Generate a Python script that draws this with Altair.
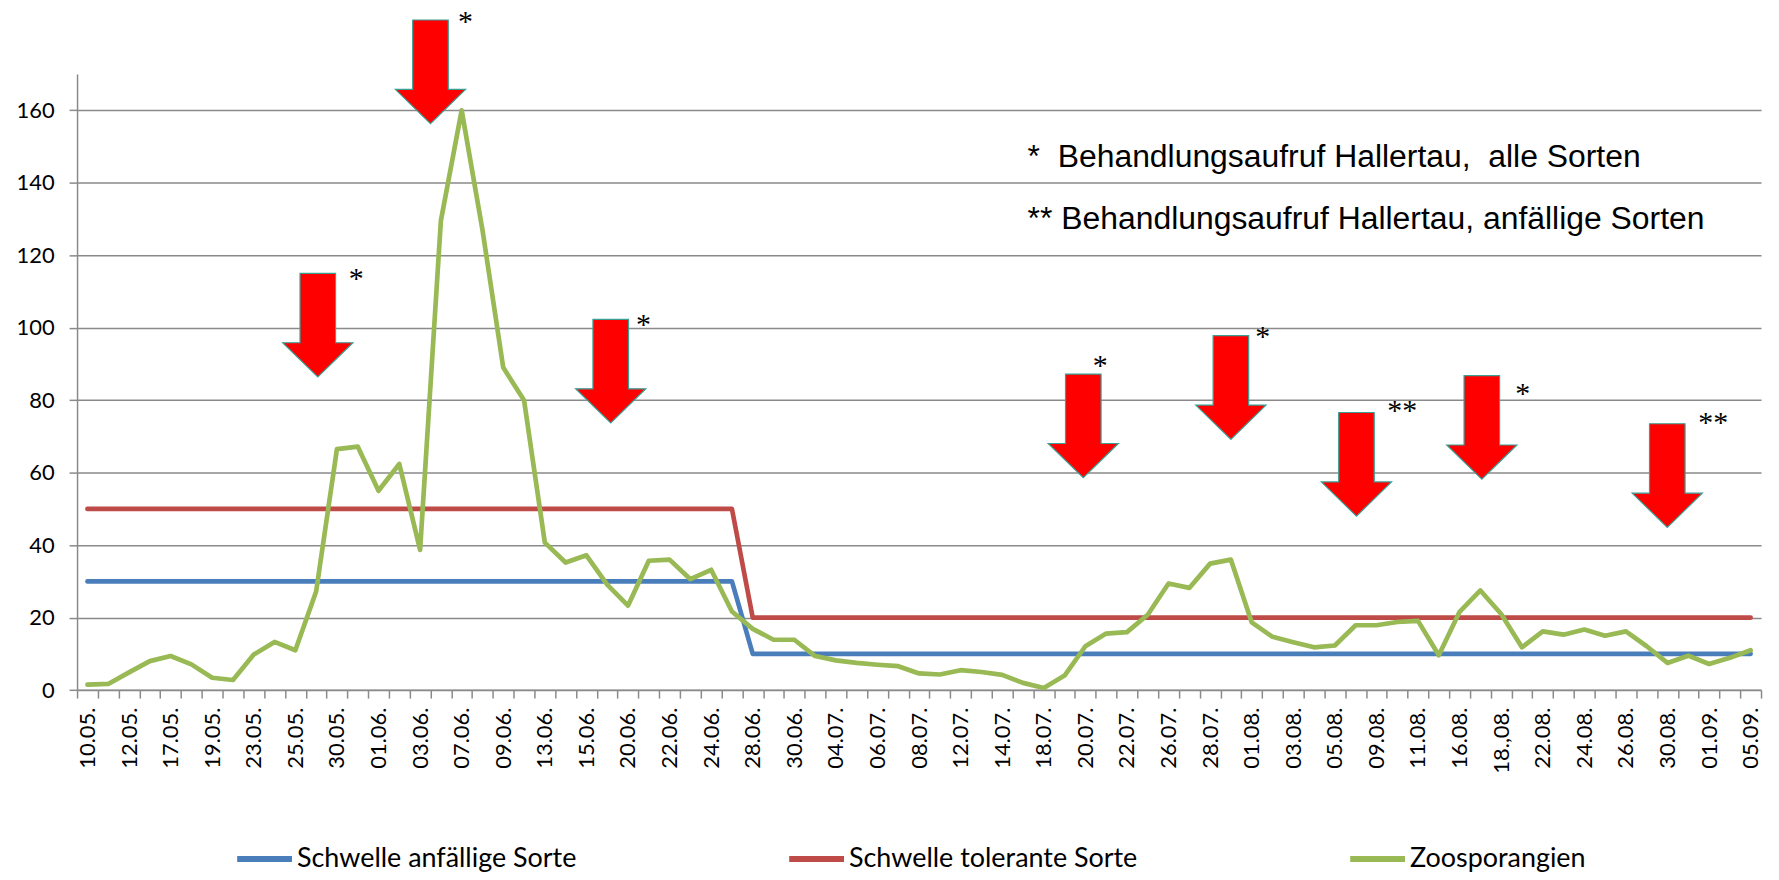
import json
import altair as alt
import pandas as pd

# ---- data ----
tick_labels = ["10.05.", "12.05.", "17.05.", "19.05.", "23.05.", "25.05.", "30.05.", "01.06.",
               "03.06.", "07.06.", "09.06.", "13.06.", "15.06.", "20.06.", "22.06.", "24.06.",
               "28.06.", "30.06.", "04.07.", "06.07.", "08.07.", "12.07.", "14.07.", "18.07.",
               "20.07.", "22.07.", "26.07.", "28.07.", "01.08.", "03.08.", "05.08.", "09.08.",
               "11.08.", "16.08.", "18.,08.", "22.08.", "24.08.", "26.08.", "30.08.", "01.09.",
               "05.09."]

zoosporangien = [1.5, 1.7, 4.9, 8.0, 9.4, 7.1, 3.4, 2.8, 9.8, 13.3,
                 11.0, 27.2, 66.5, 67.2, 55.0, 62.4, 38.7, 129.5, 160.0, 127.0,
                 89.0, 80.0, 40.7, 35.2, 37.2, 29.1, 23.3, 35.7, 36.0, 30.6,
                 33.2, 21.7, 16.9, 13.9, 13.9, 9.4, 8.2, 7.5, 7.0, 6.6,
                 4.6, 4.3, 5.5, 5.0, 4.2, 2.0, 0.6, 4.0, 12.1, 15.6,
                 16.0, 20.8, 29.4, 28.2, 34.9, 36.0, 18.7, 14.7, 13.2, 11.8,
                 12.3, 17.9, 17.9, 18.8, 19.1, 9.6, 21.6, 27.5, 21.0, 11.8,
                 16.2, 15.3, 16.7, 15.0, 16.2, 12.1, 7.5, 9.5, 7.2, 8.9,
                 11.0]

schwelle_anfaellig = [30, 30, 30, 30, 30, 30, 30, 30, 30, 30,
                      30, 30, 30, 30, 30, 30, 30, 30, 30, 30,
                      30, 30, 30, 30, 30, 30, 30, 30, 30, 30,
                      30, 30, 10, 10, 10, 10, 10, 10, 10, 10,
                      10, 10, 10, 10, 10, 10, 10, 10, 10, 10,
                      10, 10, 10, 10, 10, 10, 10, 10, 10, 10,
                      10, 10, 10, 10, 10, 10, 10, 10, 10, 10,
                      10, 10, 10, 10, 10, 10, 10, 10, 10, 10,
                      10]

schwelle_tolerant = [50, 50, 50, 50, 50, 50, 50, 50, 50, 50,
                     50, 50, 50, 50, 50, 50, 50, 50, 50, 50,
                     50, 50, 50, 50, 50, 50, 50, 50, 50, 50,
                     50, 50, 20, 20, 20, 20, 20, 20, 20, 20,
                     20, 20, 20, 20, 20, 20, 20, 20, 20, 20,
                     20, 20, 20, 20, 20, 20, 20, 20, 20, 20,
                     20, 20, 20, 20, 20, 20, 20, 20, 20, 20,
                     20, 20, 20, 20, 20, 20, 20, 20, 20, 20,
                     20]

series_names = ["Schwelle anfällige Sorte", "Schwelle tolerante Sorte", "Zoosporangien"]
series_colors = ["#4A7EBB", "#BE4B48", "#98B954"]

# treatment-call arrows (category position, value of arrow centre)
arrow_x = [11.08, 16.5, 25.17, 47.9, 55.0, 61.04, 67.07, 75.99]
arrow_y = [100.7, 170.6, 88.0, 72.9, 83.5, 62.3, 72.5, 59.2]

# asterisks next to arrows
star_x = [12.93, 18.18, 26.74, 48.72, 56.53, 63.24, 69.04, 78.20]
star_y = [114.8, 185.8, 102.0, 90.7, 98.7, 78.3, 83.0, 75.0]
star_text = ["*", "*", "*", "*", "*", "**", "*", "**"]

note_text = ["*\u00a0 Behandlungsaufruf Hallertau,\u00a0 alle Sorten",
             "** Behandlungsaufruf Hallertau, anfällige Sorten"]
note_x = [45.22, 45.22]
note_y = [144.4, 127.2]

# ---- tables ----
rows = []
for name, vals in zip(series_names, [schwelle_anfaellig, schwelle_tolerant, zoosporangien]):
    for i, v in enumerate(vals):
        rows.append({"i": i, "v": v, "series": name})
lines_df = pd.DataFrame(rows)
arrows_df = pd.DataFrame({"i": arrow_x, "v": arrow_y})
stars_df = pd.DataFrame({"i": star_x, "v": star_y, "t": star_text})
notes_df = pd.DataFrame({"i": note_x, "v": note_y, "t": note_text})

n = len(zoosporangien)
xscale = alt.Scale(domain=[-0.5, n - 0.5], nice=False, zero=False)
yscale = alt.Scale(domain=[0, 170], nice=False)

tick_vals = sorted([k - 0.5 for k in range(n + 1)] + [2 * k for k in range(len(tick_labels))])
label_expr = ("datum.value % 2 == 0 ? " + json.dumps(tick_labels, ensure_ascii=False)
              + "[datum.value / 2] : ''")

GRAY = "#8A8A8A"
x_axis = alt.Axis(values=tick_vals, labelExpr=label_expr, labelAngle=-90, labelOverlap=False,
                  labelFlush=False, labelBound=False, grid=False, title=None,
                  tickOpacity={"condition": {"test": "datum.value % 1 != 0", "value": 1}, "value": 0},
                  tickSize=8, tickWidth=1.5, tickColor=GRAY, domainColor=GRAY, domainWidth=1.5,
                  labelFont="Lato", labelFontSize=22, labelColor="#000000", labelPadding=9)
y_axis = alt.Axis(values=list(range(0, 161, 20)), grid=True, gridColor=GRAY, gridWidth=1.5,
                  tickSize=8, tickWidth=1.5, tickColor=GRAY, domainColor=GRAY, domainWidth=1.5,
                  labelFont="Lato", labelFontSize=22, labelColor="#000000", labelPadding=15,
                  title=None)

X = alt.X("i:Q", scale=xscale, axis=x_axis)
Y = alt.Y("v:Q", scale=yscale, axis=y_axis)

lines = alt.Chart(lines_df).mark_line(strokeWidth=4.7, strokeCap="round", strokeJoin="round").encode(
    x=X, y=Y,
    color=alt.Color("series:N", scale=alt.Scale(domain=series_names, range=series_colors),
                    legend=alt.Legend(orient="none", legendX=157.7, legendY=757, direction="horizontal",
                                      title=None, symbolType="stroke", symbolStrokeWidth=6,
                                      symbolSize=3025, labelFont="Lato", labelFontSize=27,
                                      labelColor="#000000", labelOffset=2, labelLimit=0,
                                      columnPadding=201, padding=0)),
)

ARROW = "M-0.343,-1L0.343,-1L0.343,0.34L0.677,0.34L0,1L-0.677,0.34L-0.343,0.34Z"
arrows = alt.Chart(arrows_df).mark_point(shape=ARROW, filled=True, fill="#FF0000", stroke="#3A9E94",
                                         strokeWidth=1.2, opacity=1, size=10816).encode(x=X, y=Y)

stars = alt.Chart(stars_df).mark_text(font="Liberation Serif", fontSize=30, baseline="alphabetic",
                                      align="center", dy=14, color="#000000").encode(x=X, y=Y, text="t:N")

notes = alt.Chart(notes_df).mark_text(font="Liberation Sans", fontSize=32, baseline="alphabetic",
                                      align="left", color="#000000").encode(x=X, y=Y, text="t:N")

chart = alt.layer(lines, arrows, stars, notes).properties(
    width=1690, height=618.3,
    padding={"left": 69.3, "top": 64.7, "right": 10, "bottom": 181},
    autosize=alt.AutoSizeParams(type="none"),
    background="#FFFFFF",
).configure_view(stroke=None)

chart.save("out.html", embed_options={"renderer": "svg", "actions": False})
